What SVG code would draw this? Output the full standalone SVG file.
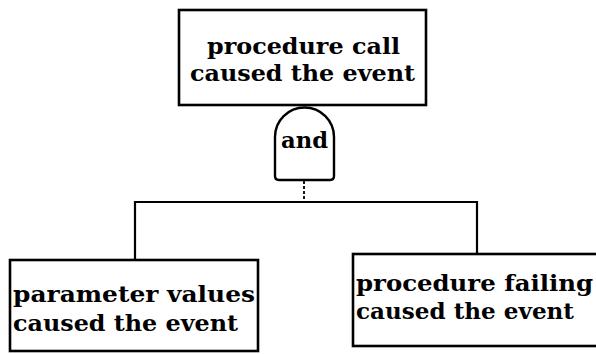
<svg xmlns="http://www.w3.org/2000/svg" width="596" height="354" viewBox="0 0 596 354">
  <style>
    .box { fill: #fff; stroke: #000; stroke-width: 2.6; }
    .gate { fill: #fff; stroke: #000; stroke-width: 2.4; }
    .wire { fill: none; stroke: #000; stroke-width: 2.2; }
    .stem { fill: none; stroke: #000; stroke-width: 1.8; stroke-dasharray: 3 2; }
    .lbl { font-family: "DejaVu Serif", "Liberation Serif", serif; font-weight: bold; font-size: 23px; fill: #000; }
  </style>
  <rect width="596" height="354" fill="#fff"/>

  <!-- connectors: gate output down to the bus, then to both children -->
  <g id="connectors">
    <line class="stem" x1="304" y1="181" x2="304" y2="202"/>
    <polyline class="wire" points="135,260 135,202 477,202 477,254"/>
  </g>

  <!-- top event -->
  <g id="top-event">
    <rect class="box" x="179" y="10" width="247" height="95"/>
    <text class="lbl" x="207" y="54" textLength="193" lengthAdjust="spacingAndGlyphs">procedure call</text>
    <text class="lbl" x="190" y="81" textLength="225" lengthAdjust="spacingAndGlyphs">caused the event</text>
  </g>

  <!-- AND gate -->
  <g id="and-gate">
    <path class="gate" d="M275,137 A29.5,29.5 0 0 1 334,137 L334,176 Q334,180 330,180 L279,180 Q275,180 275,176 Z"/>
    <text class="lbl" x="304.5" y="148" text-anchor="middle" textLength="47" lengthAdjust="spacingAndGlyphs">and</text>
  </g>

  <!-- left child -->
  <g id="parameter-values">
    <rect class="box" x="10" y="260" width="248" height="91"/>
    <text class="lbl" x="13" y="302" textLength="242" lengthAdjust="spacingAndGlyphs">parameter values</text>
    <text class="lbl" x="13" y="331" textLength="225" lengthAdjust="spacingAndGlyphs">caused the event</text>
  </g>

  <!-- right child -->
  <g id="procedure-failing">
    <rect class="box" x="353" y="254" width="260" height="92"/>
    <text class="lbl" x="356" y="291" textLength="237" lengthAdjust="spacingAndGlyphs">procedure failing</text>
    <text class="lbl" x="356" y="319" textLength="218" lengthAdjust="spacingAndGlyphs">caused the event</text>
  </g>
</svg>
